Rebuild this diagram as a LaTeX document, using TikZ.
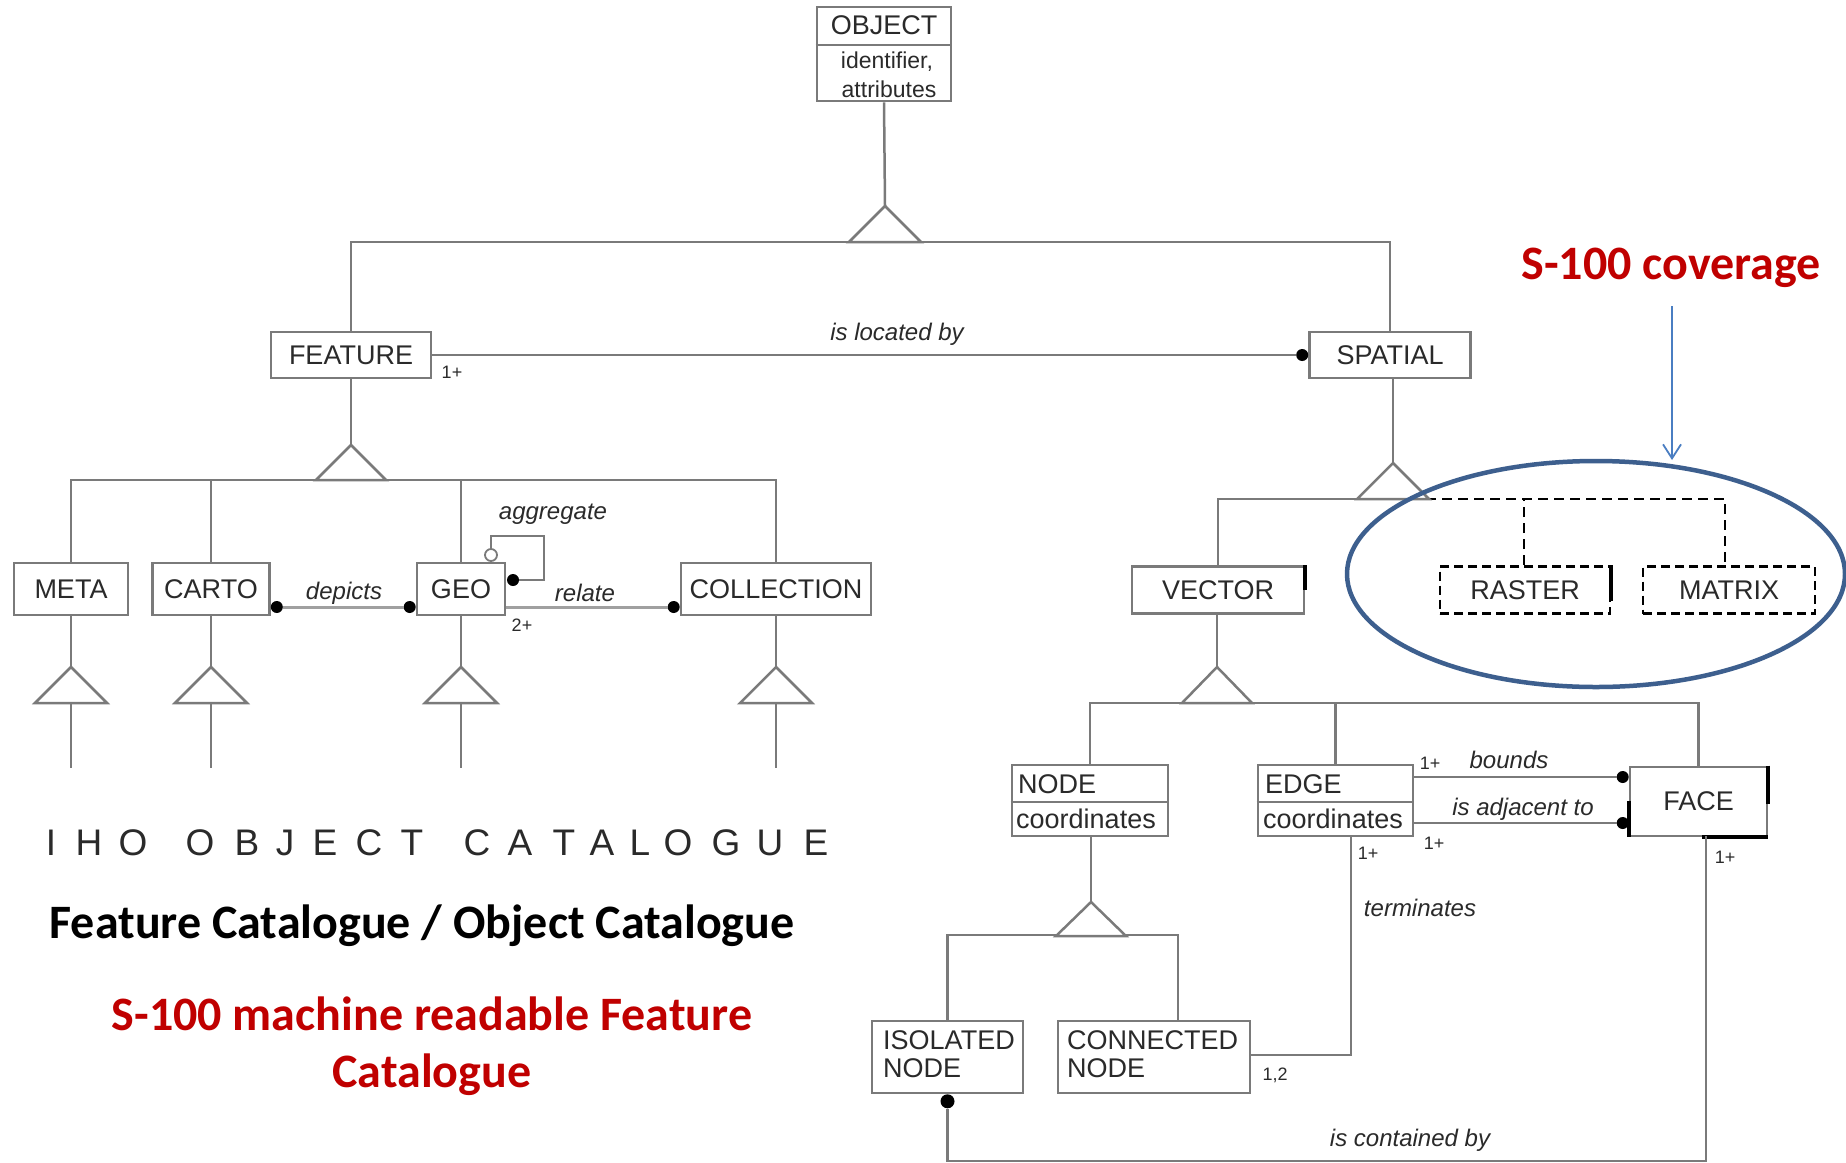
\documentclass[tikz,border=0pt]{standalone}
\usepackage{fontspec}
\setmainfont{Liberation Sans}
\newfontfamily\calibri{Carlito}
\usetikzlibrary{arrows.meta}
\definecolor{lg}{HTML}{7A7A7A}
\definecolor{llg}{HTML}{A0A0A0}
\definecolor{tx}{HTML}{2A2A2A}
\definecolor{dred}{HTML}{C00000}
\definecolor{ellc}{HTML}{3D5F8E}
\definecolor{arrb}{HTML}{4A7EC2}
\tikzset{
 ln/.style={draw=lg, line width=2.5pt},
 dl/.style={draw=black, line width=2.5pt, dash pattern=on 10pt off 6pt},
 box/.style={draw=lg, line width=2.6pt, fill=white, inner sep=0pt, text=tx, font=\fontsize{27}{30}\selectfont},
 dbox/.style={draw=black, line width=2.6pt, dash pattern=on 9pt off 5pt, fill=white, inner sep=0pt, text=tx, font=\fontsize{27}{30}\selectfont},
 tri/.style={draw=lg, line width=2.5pt, fill=white, line join=miter},
 lbl/.style={font=\fontsize{24}{26}\selectfont\itshape, text=tx, inner sep=0pt},
 card/.style={font=\fontsize{18}{20}\selectfont, text=tx, inner sep=0pt},
 btxt/.style={font=\fontsize{27}{30}\selectfont, text=tx, inner sep=0pt},
 dot/.style={circle, fill=black, inner sep=0pt, minimum size=12pt},
 odot/.style={circle, draw=lg, fill=white, line width=1.8pt, inner sep=0pt, minimum size=12pt},
 iho/.style={font=\fontsize{37}{40}\selectfont, text=tx, inner sep=0pt},
 big/.style={font=\calibri\bfseries\fontsize{48}{56}\selectfont, inner sep=0pt, anchor=base},
 art/.style={draw=black, line width=4pt}
}
\begin{document}
\begin{tikzpicture}[x=1pt,y=-1pt]
\useasboundingbox (0,0) rectangle (1846,1162);
\fill[white] (0,0) rectangle (1846,1162);

% ---------- boxes ----------
\node[box, minimum width=134pt, minimum height=94pt] (object) at (884,54) {};
\draw[ln] (object.west |- 0,45) -- (object.east |- 0,45);
\node[btxt] (objt) at (884,25) {OBJECT};
\node[btxt, font=\fontsize{23}{26}\selectfont] (objid) at (887,62) {identifier,};
\node[btxt, font=\fontsize{23}{26}\selectfont] (objat) at (889,89) {attributes};

\node[box, minimum width=160pt, minimum height=46pt] (feature) at (351,355) {FEATURE};
\node[box, minimum width=161pt, minimum height=46pt] (spatial) at (1390,355) {SPATIAL};

\node[box, minimum width=114pt, minimum height=52pt] (meta) at (71,589) {META};
\node[box, minimum width=117pt, minimum height=52pt] (carto) at (211,589) {CARTO};
\node[box, minimum width=88pt, minimum height=52pt] (geo) at (461,589) {GEO};
\node[box, minimum width=190pt, minimum height=52pt] (collection) at (776,589) {COLLECTION};

\node[box, minimum width=172pt, minimum height=47pt] (vector) at (1218,590) {VECTOR};
\node[dbox, minimum width=170pt, minimum height=47pt] (raster) at (1525,590) {RASTER};
\node[dbox, minimum width=172pt, minimum height=47pt] (matrix) at (1729,590) {MATRIX};

\node[box, minimum width=156pt, minimum height=71pt] (nodeb) at (1090,800.5) {};
\draw[ln] (nodeb.west |- 0,802) -- (nodeb.east |- 0,802);
\node[btxt, anchor=west] (nodet) at (1018,784) {NODE};
\node[btxt, anchor=west] (nodec) at (1016,819) {coordinates};

\node[box, minimum width=155pt, minimum height=71pt] (edge) at (1335.5,800.5) {};
\draw[ln] (edge.west |- 0,802) -- (edge.east |- 0,802);
\node[btxt, anchor=west] (edget) at (1265,784) {EDGE};
\node[btxt, anchor=west] (edgec) at (1263,819) {coordinates};

\node[box, minimum width=137pt, minimum height=69pt] (face) at (1698.5,801.5) {FACE};

\node[box, minimum width=151pt, minimum height=72pt] (isolated) at (947.5,1057) {};
\node[btxt, anchor=west, align=left, font=\fontsize{27}{28}\selectfont] (isot) at (883,1054) {ISOLATED\\NODE};
\node[box, minimum width=192pt, minimum height=72pt] (connected) at (1154,1057) {};
\node[btxt, anchor=west, align=left, font=\fontsize{27}{28}\selectfont] (cont) at (1067,1054) {CONNECTED\\NODE};

% ---------- generalisation: OBJECT ----------
\coordinate (t0) at (885,206);
\coordinate (b0) at (885,242);
\draw[ln] (object.south) -- (t0);
\draw[ln] (feature.north) |- (b0) -| (spatial.north);
\draw[tri] (t0) -- ++(-36,36) -- ++(72,0) -- cycle;

% ---------- FEATURE ----------
\coordinate (t1) at (351,445);
\coordinate (b1) at (351,480);
\draw[ln] (feature.south) -- (t1);
\draw[ln] (meta.north) |- (b1) -| (collection.north);
\draw[ln] (carto.north) -- (carto.north |- b1);
\draw[ln] (geo.north) -- (geo.north |- b1);
\draw[tri] (t1) -- ++(-35,35) -- ++(70,0) -- cycle;
\foreach \n in {meta,carto,geo,collection}{
  \draw[ln] (\n.south) -- (\n.south |- 0,768);
  \draw[tri] (\n.south |- 0,667) -- ++(-36,36) -- ++(72,0) -- cycle;
}

% is located by
\node[dot] (dsp) at ([xshift=-6pt]spatial.west) {};
\draw[ln] (feature.east) -- (dsp);
\node[lbl] (loc) at (897,334) {is located by};
\node[card] (c1) at (452,372) {1+};

% depicts / relate
\node[dot] (dc1) at ([xshift=6pt]carto.east |- 0,607) {};
\node[dot] (dc2) at ([xshift=-6pt]geo.west |- 0,607) {};
\draw[draw=llg, line width=3pt] (dc1) -- (dc2);
\node[lbl] (dep) at (344,593) {depicts};
\node[dot] (dr1) at ([xshift=-6pt]collection.west |- 0,607) {};
\draw[draw=llg, line width=3pt] (geo.east |- 0,607) -- (dr1);
\node[lbl] (rel) at (585,593) {relate};
\node[card] (c2) at (522,625) {2+};

% aggregate
\node[odot] (ag1) at (491,555) {};
\node[dot] (ag2) at (513,580) {};
\coordinate (agc) at (544,536);
\draw[ln, line width=2pt] (ag1.north) |- (agc) |- (ag2);
\node[lbl] (agg) at (553,514) {aggregate};

% ---------- SPATIAL ----------
\coordinate (t2) at (1393,463);
\coordinate (b2) at (1393,499);
\coordinate (b2r) at (1426,499);
\draw[ln] (spatial.south -| t2) -- (t2);
\draw[ln] (vector.north) |- (b2r);
\draw[dl] (b2r) -| (matrix.north -| 1725,0);
\draw[dl] (raster.north -| 1524,0) -- (1524,499);
\draw[tri] (t2) -- ++(-36,36) -- ++(72,0) -- cycle;
\draw[art] (vector.north east) -- ([yshift=-25pt]vector.north east);
\draw[art] (raster.north east) -- ([yshift=-36pt]raster.north east);

% coverage ellipse
\draw[ellc, line width=4.5pt] (1596,574) ellipse [x radius=249pt, y radius=113pt];
\node[big, text=dred, anchor=center] (cov) at (1671,268) {S-100 coverage};
\coordinate (as) at (1672,306);
\coordinate (ae) at (1672,460);
\draw[arrb, line width=1.8pt, -{Straight Barb[length=14pt,width=18pt,line width=1.8pt]}] (as) -- (ae);

% ---------- VECTOR ----------
\coordinate (t3) at (1217,667);
\coordinate (b3) at (1217,703);
\draw[ln] (vector.south -| t3) -- (t3);
\draw[ln] (nodeb.north) |- (b3) -| (face.north);
\draw[ln] (edge.north) -- (edge.north |- b3);
\draw[tri] (t3) -- ++(-35,36) -- ++(70,0) -- cycle;

% bounds / adjacent
\node[dot] (fb1) at ([xshift=-6pt]face.west |- 0,777) {};
\node[dot] (fb2) at ([xshift=-6pt]face.west |- 0,823) {};
\draw[ln] (edge.east |- 0,777) -- (fb1);
\draw[ln] (edge.east |- 0,823) -- (fb2);
\node[lbl] (bnd) at (1509,760) {bounds};
\node[lbl] (adj) at (1523,809) {is adjacent to};
\node[card] (c3) at (1430,763) {1+};
\node[card] (c4) at (1434,843) {1+};
\draw[art] (face.north east) -- ([yshift=-38pt]face.north east);
\draw[art] ([yshift=36pt]face.south west) -- (face.south west);
\draw[art] ([xshift=-66pt]face.south east) -- (face.south east);

% ---------- NODE ----------
\coordinate (t4) at (1091,902);
\coordinate (b4) at (1091,935);
\coordinate (cn) at (1178,1021);
\draw[ln] (nodeb.south -| t4) -- (t4);
\draw[ln] (isolated.north) |- (b4) -| (cn);
\draw[tri] (t4) -- ++(-35,34) -- ++(70,0) -- cycle;

% terminates
\coordinate (te) at (1351,836);
\draw[ln] (te) |- (connected.east |- 0,1055);
\node[card] (c5) at (1368,853) {1+};
\node[lbl] (ter) at (1420,908) {terminates};
\node[card] (c6) at (1275,1075) {1,2};

% is contained by
\coordinate (fc) at (1706,836);
\coordinate (fcb) at (1706,1161);
\node[dot, minimum width=11pt, minimum height=14pt] (idt) at ([yshift=-7pt]isolated.south) {};
\draw[ln] (fc) -- (fcb) -| (idt);
\node[card] (c7) at (1725,857) {1+};
\node[lbl] (ctn) at (1410,1140) {is contained by};

% ---------- bottom-left texts ----------
\foreach \x/\l [count=\i] in {51/I,89/H,133/O,200/O,247/B,285/J,325/E,369/C,412/T,477/C,520/A,564/T,602/A,640/L,678/O,726/G,770/U,816/E}
  \node[iho] (iho\i) at (\x,843) {\l};
\node[big, text=black] (fc1) at (422,938) {Feature Catalogue / Object Catalogue};
\node[big, text=dred] (s1) at (432,1030) {S-100 machine readable Feature};
\node[big, text=dred] (s2) at (432,1087) {Catalogue};
\end{tikzpicture}
\end{document}
